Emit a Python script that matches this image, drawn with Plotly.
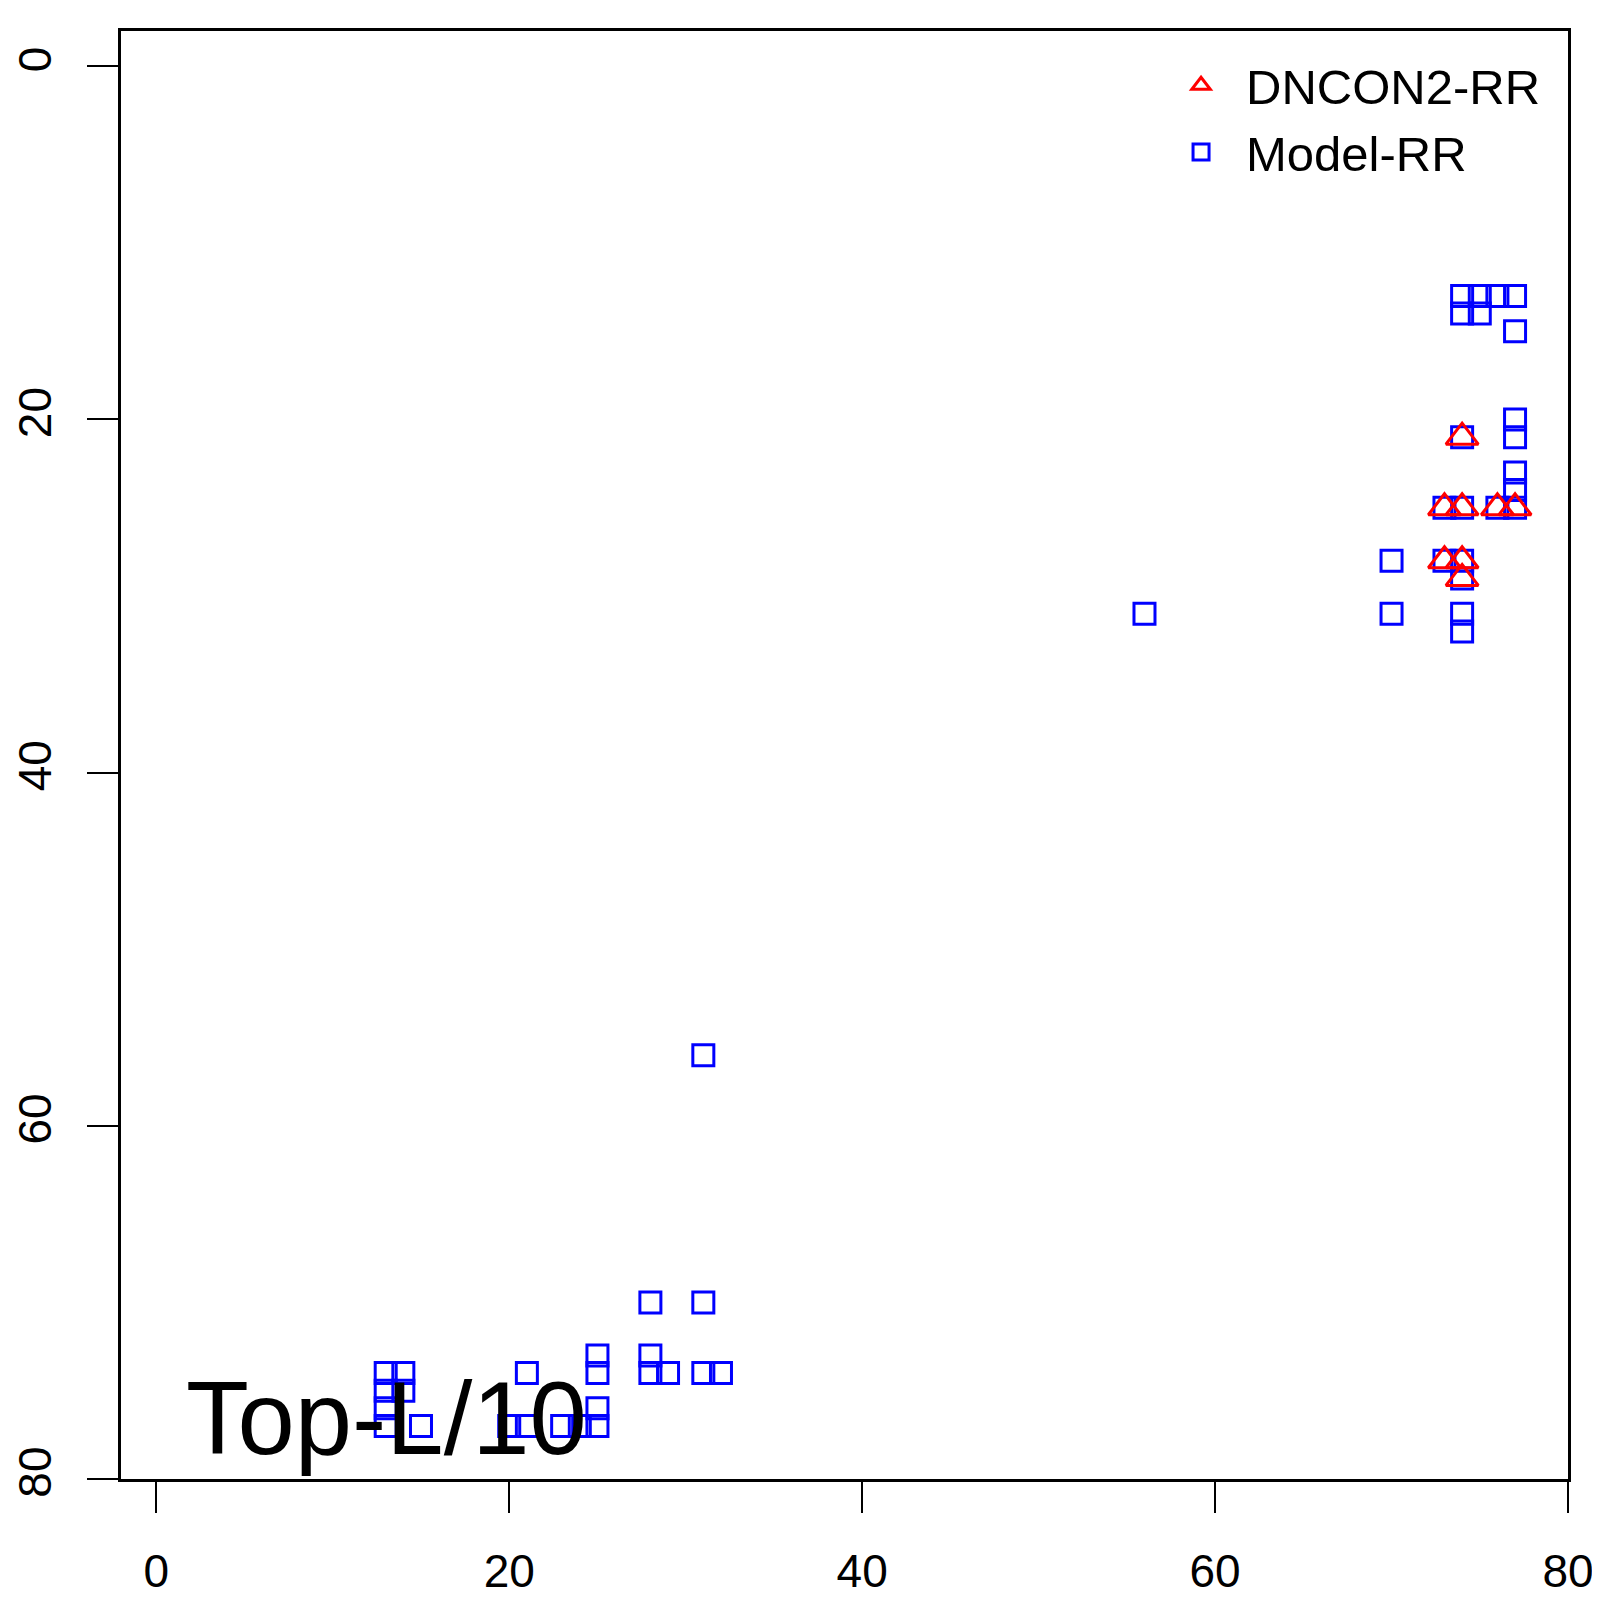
import plotly.graph_objects as go

# DNCON2-RR contacts (x = residue i, y = residue j)
dncon_x = [74, 73, 74, 76, 77, 73, 74, 74]
dncon_y = [21, 25, 25, 25, 25, 28, 28, 29]

# Model-RR contacts
model_x = [13, 13, 13, 13, 14, 14, 15, 20, 21, 21, 23, 24, 25, 25, 25, 25,
           28, 28, 28, 29, 31, 31, 32, 31, 56, 70, 70,
           74, 75, 76, 77, 74, 75, 77, 77, 77, 74, 77, 77,
           73, 74, 76, 77, 73, 74, 74, 74, 74]
model_y = [74, 75, 76, 77, 74, 75, 77, 77, 74, 77, 77, 77, 73, 74, 76, 77,
           70, 73, 74, 74, 70, 74, 74, 56, 31, 28, 31,
           13, 13, 13, 13, 14, 14, 15, 20, 21, 21, 23, 24,
           25, 25, 25, 25, 28, 28, 29, 31, 32]

tick_vals = [0, 20, 40, 60, 80]
label_text = "Top-L/10"

FONT = "Liberation Sans, Arial, Helvetica, sans-serif"

fig = go.Figure()
fig.add_trace(go.Scatter(
    x=model_x, y=model_y, mode="markers", name="Model-RR",
    marker=dict(symbol="square-open", size=21, color="#0000ff",
                line=dict(width=3, color="#0000ff")),
))
fig.add_trace(go.Scatter(
    x=dncon_x, y=dncon_y, mode="markers", name="DNCON2-RR",
    marker=dict(symbol="triangle-up-open", size=28, color="#ff0000",
                line=dict(width=3, color="#ff0000")),
))

fig.add_annotation(
    x=13.05, y=76.6, xref="x", yref="y", text=label_text, showarrow=False,
    xanchor="center", yanchor="middle",
    font=dict(family=FONT, size=103, color="black"),
)

axis_common = dict(
    showgrid=False, zeroline=False, showline=True, mirror=True,
    linecolor="black", linewidth=2.5, ticks="outside", ticklen=31,
    tickwidth=2, tickcolor="black", tickvals=tick_vals, automargin=False,
    tickfont=dict(family=FONT, size=46, color="black"),
)

fig.update_layout(
    width=1600, height=1600,
    margin=dict(l=113, r=40, t=23, b=129),
    paper_bgcolor="white", plot_bgcolor="white",
    xaxis=dict(range=[-2, 80], ticklabelstandoff=19, **axis_common),
    yaxis=dict(range=[80, -2], tickangle=-90, ticklabelstandoff=18, **axis_common),
    legend=dict(
        x=0.7153, y=0.989, xanchor="left", yanchor="top",
        bgcolor="rgba(0,0,0,0)", borderwidth=0,
        font=dict(family=FONT, size=49, color="black"),
        traceorder="reversed", itemsizing="trace", itemwidth=80,
    ),
    showlegend=True,
)

fig.write_html("out.html")
